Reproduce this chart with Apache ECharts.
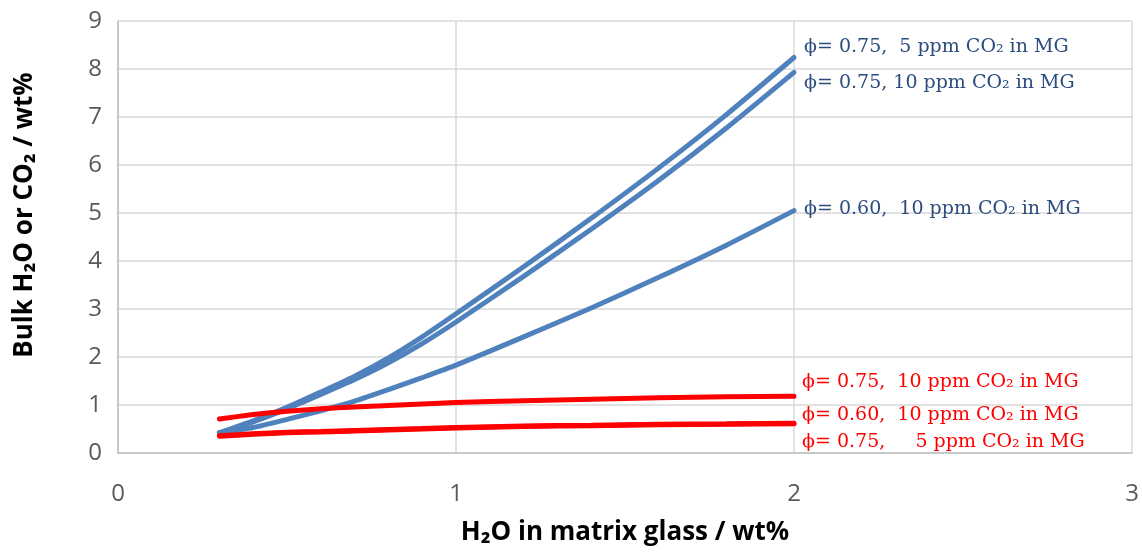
<!DOCTYPE html>
<html>
<head>
<meta charset="utf-8">
<script src="https://cdn.jsdelivr.net/npm/echarts@6/dist/echarts.min.js"></script>
<style>html,body{margin:0;padding:0;background:#fff}#c{width:1142px;height:554px}</style>
</head>
<body>
<div id="c"></div>
<script>
const xValues = [0.3, 0.4, 0.5, 0.6, 0.7, 0.8, 0.9, 1.0, 1.2, 1.4, 1.6, 1.8, 2.0];
const blue075_5  = [0.42, 0.67, 0.95, 1.27, 1.60, 1.98, 2.42, 2.90, 3.88, 4.89, 5.94, 7.05, 8.24];
const blue075_10 = [0.42, 0.65, 0.92, 1.22, 1.53, 1.88, 2.28, 2.73, 3.68, 4.66, 5.68, 6.77, 7.93];
const blue060_10 = [0.42, 0.53, 0.70, 0.88, 1.08, 1.32, 1.57, 1.83, 2.42, 3.02, 3.66, 4.33, 5.05];
const red075_10  = [0.71, 0.80, 0.87, 0.92, 0.96, 0.99, 1.02, 1.05, 1.09, 1.12, 1.15, 1.17, 1.18];
const red060_10  = [0.36, 0.40, 0.43, 0.45, 0.47, 0.49, 0.51, 0.53, 0.56, 0.58, 0.60, 0.61, 0.62];
const red075_5   = [0.35, 0.39, 0.42, 0.44, 0.46, 0.48, 0.50, 0.52, 0.55, 0.57, 0.59, 0.60, 0.61];
const xTicks = [0, 1, 2, 3];
const yTicks = [0, 1, 2, 3, 4, 5, 6, 7, 8, 9];

const pair = ys => xValues.map((x, i) => [x, ys[i]]);
const BLUE = '#4f81bd', RED = '#ff0000', BLUE_TXT = '#2b4c7e';
const labelFont = 'DejaVu Serif';

function series(name, ys, color, txtColor, text, offset) {
  return {
    name, type: 'line', data: pair(ys), showSymbol: false, smooth: 0.2,
    lineStyle: { color, width: 5, cap: 'round' },
    itemStyle: { color },
    emphasis: { disabled: true },
    endLabel: {
      show: !!text, formatter: text, offset,
      color: txtColor, fontFamily: labelFont, fontSize: 19
    }
  };
}

const chart = echarts.init(document.getElementById('c'));
chart.setOption({
  animation: false,
  grid: { left: 118, right: 10, top: 21, bottom: 101 },
  xAxis: {
    type: 'value', min: 0, max: 3, interval: 1,
    name: 'H₂O in matrix glass / wt%', nameLocation: 'middle', nameGap: 67,
    nameTextStyle: { fontFamily: 'Open Sans', fontWeight: 'bold', fontSize: 26, color: '#000' },
    axisLine: { lineStyle: { color: '#bfbfbf', width: 1.5 } },
    axisTick: { show: false },
    splitLine: { lineStyle: { color: '#d9d9d9', width: 1.5 } },
    axisLabel: { margin: 29, fontFamily: 'Open Sans', fontSize: 24, color: '#595959',
      formatter: v => xTicks.includes(v) ? String(v) : '' }
  },
  yAxis: {
    type: 'value', min: 0, max: 9, interval: 1,
    name: 'Bulk H₂O or CO₂ / wt%', nameLocation: 'middle', nameGap: 80, nameRotate: 90,
    nameTextStyle: { fontFamily: 'Open Sans', fontWeight: 'bold', fontSize: 26, color: '#000',
      padding: [0, 0, 0, 44] },
    axisLine: { show: true, lineStyle: { color: '#bfbfbf', width: 1.5 } },
    axisTick: { show: false },
    splitLine: { lineStyle: { color: '#d9d9d9', width: 1.5 } },
    axisLabel: { margin: 16, fontFamily: 'Open Sans', fontSize: 24, color: '#595959',
      formatter: v => yTicks.includes(v) ? String(v) : '' }
  },
  series: [
    series('φ=0.75, 5 ppm', blue075_5, BLUE, BLUE_TXT, 'ϕ= 0.75,  5 ppm CO₂ in MG', [2, -10]),
    series('φ=0.75, 10 ppm', blue075_10, BLUE, BLUE_TXT, 'ϕ= 0.75, 10 ppm CO₂ in MG', [2, 11]),
    series('φ=0.60, 10 ppm', blue060_10, BLUE, BLUE_TXT, 'ϕ= 0.60,  10 ppm CO₂ in MG', [2, -2]),
    series('red φ=0.75, 10 ppm', red075_10, RED, RED, 'ϕ= 0.75,  10 ppm CO₂ in MG', [0, -14]),
    series('red φ=0.60, 10 ppm', red060_10, RED, RED, 'ϕ= 0.60,  10 ppm CO₂ in MG', [0, -8]),
    series('red φ=0.75, 5 ppm', red075_5, RED, RED, 'ϕ= 0.75,     5 ppm CO₂ in MG', [0, 18])
  ]
});
</script>
</body>
</html>
